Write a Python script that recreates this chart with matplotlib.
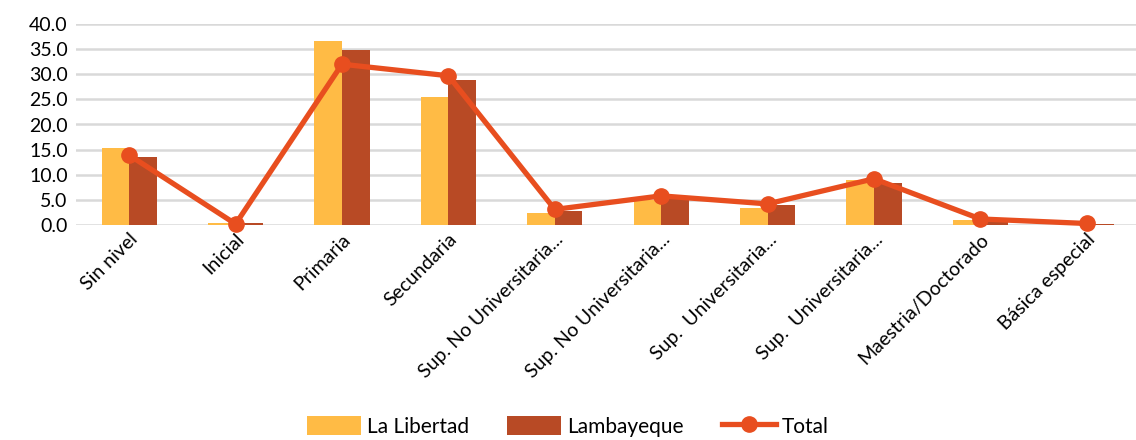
import matplotlib.pyplot as plt
import numpy as np

plt.rcParams['font.family'] = ['Lato', 'DejaVu Sans']

categorias = ['Sin nivel', 'Inicial', 'Primaria', 'Secundaria',
              'Sup. No Universitaria...', 'Sup. No Universitaria...',
              'Sup.  Universitaria...', 'Sup.  Universitaria...',
              'Maestria/Doctorado', 'Básica especial']
la_libertad = [15.3, 0.3, 36.7, 25.5, 2.3, 5.0, 3.4, 8.9, 1.0, 0.2]
lambayeque = [13.6, 0.3, 34.8, 28.9, 2.7, 5.4, 4.0, 8.3, 0.8, 0.2]
total = [13.9, 0.2, 32.0, 29.7, 3.1, 5.8, 4.2, 9.2, 1.2, 0.3]

x = np.arange(len(categorias))
w = 0.26

fig = plt.figure(figsize=(11.36, 4.4), dpi=100)
ax = fig.add_axes([76/1136, 1-225/440, 1060/1136, 201/440])

b1 = ax.bar(x - w/2, la_libertad, w, color='#FFBB45', label='La Libertad', zorder=2)
b2 = ax.bar(x + w/2, lambayeque, w, color='#B84A25', label='Lambayeque', zorder=2)
l1, = ax.plot(x, total, color='#E84E1F', lw=3.8, marker='o', ms=11, label='Total', zorder=3, clip_on=False)

ax.set_ylim(0, 40)
ax.set_xlim(-0.5, -0.5 + 1060/106.4)
ax.set_yticks(np.arange(0, 41, 5))
ax.set_yticklabels([f'{v:.1f}' for v in np.arange(0, 41, 5)], fontsize=14)
ax.yaxis.grid(True, color='#d9d9d9', lw=1.8, zorder=0)
ax.set_axisbelow(True)
for s in ax.spines.values():
    s.set_visible(False)
ax.tick_params(length=0, pad=6)
ax.tick_params(axis='x', pad=4)
ax.set_xticks(x)
ax.set_xticklabels(categorias, rotation=45, ha='right', rotation_mode='anchor', fontsize=14)

fig.legend([b1, b2, l1], ['La Libertad', 'Lambayeque', 'Total'],
           loc='lower center', bbox_to_anchor=(0.5, -0.035), ncol=3, frameon=False,
           fontsize=15, handlelength=2.6, handleheight=1.0, handletextpad=0.3,
           columnspacing=1.8)

fig.savefig('out.png', dpi=100)
